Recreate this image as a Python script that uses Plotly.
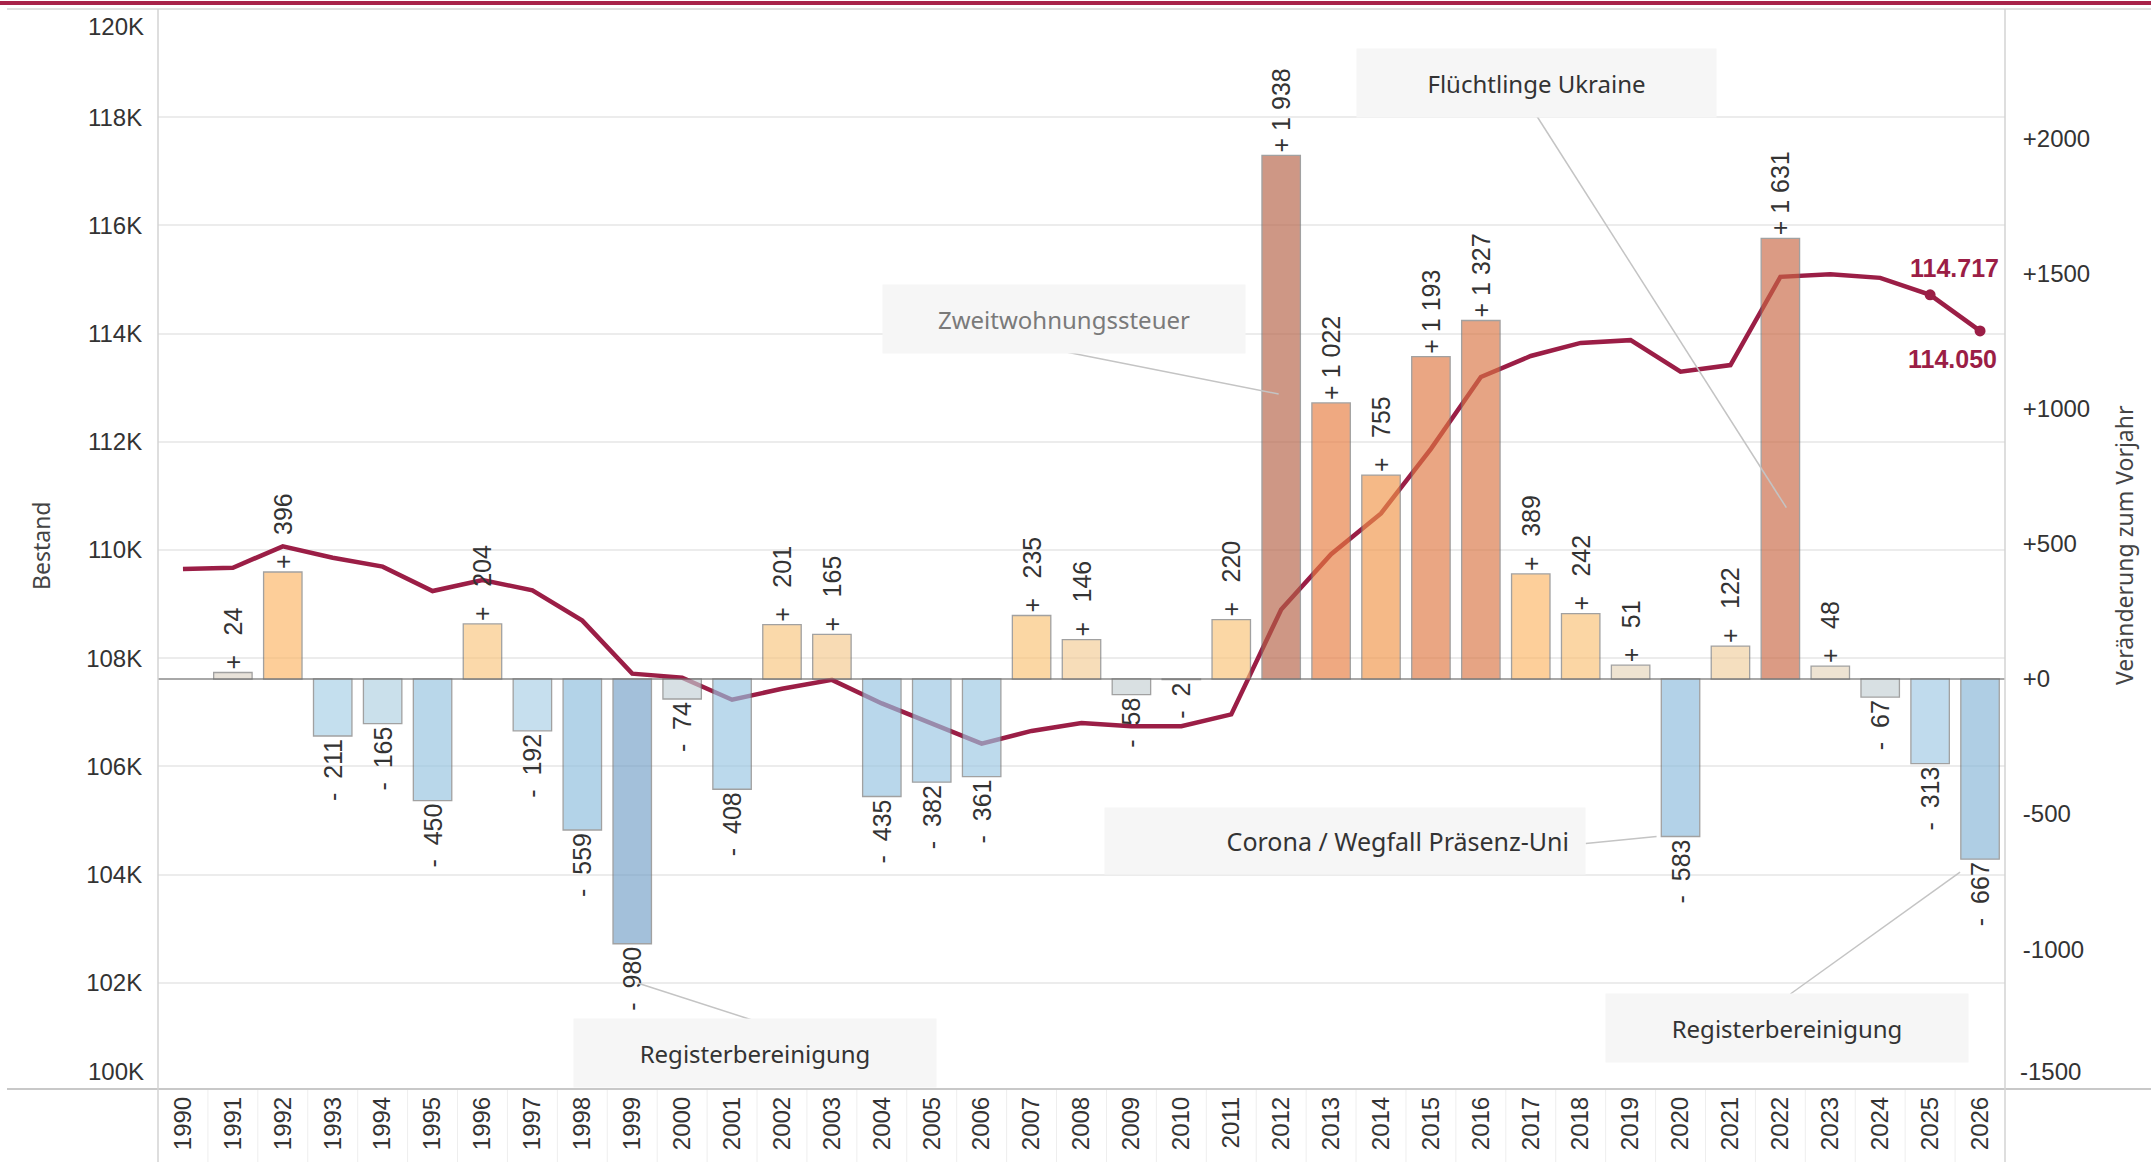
import plotly.graph_objects as go
from plotly.subplots import make_subplots

# ---------------- data ----------------
years = ["1990", "1991", "1992", "1993", "1994", "1995", "1996", "1997", "1998", "1999",
         "2000", "2001", "2002", "2003", "2004", "2005", "2006", "2007", "2008", "2009",
         "2010", "2011", "2012", "2013", "2014", "2015", "2016", "2017", "2018", "2019",
         "2020", "2021", "2022", "2023", "2024", "2025", "2026"]

# Veränderung zum Vorjahr (bars, right axis)
changes = [None, 24, 396, -211, -165, -450, 204, -192, -559, -980,
           -74, -408, 201, 165, -435, -382, -361, 235, 146, -58,
           -2, 220, 1938, 1022, 755, 1193, 1327, 389, 242, 51,
           -583, 122, 1631, 48, -67, -313, -667]

# Bestand (line, left axis)
bestand = [109648, 109672, 110068, 109857, 109692, 109242, 109446, 109254, 108695, 107715,
           107641, 107233, 107434, 107599, 107164, 106782, 106421, 106656, 106802, 106744,
           106742, 106962, 108900, 109922, 110677, 111870, 113197, 113586, 113828, 113879,
           113296, 113418, 115049, 115097, 115030, 114717, 114050]

left_ticks = [102000, 104000, 106000, 108000, 110000, 112000, 114000, 116000, 118000]
left_ticktext = ["102K", "104K", "106K", "108K", "110K", "112K", "114K", "116K", "118K"]
right_ticks = [-1000, -500, 0, 500, 1000, 1500, 2000]
right_ticktext = ["-1000", "-500", "+0", "+500", "+1000", "+1500", "+2000"]

notes = ["Registerbereinigung", "Zweitwohnungssteuer", "Flüchtlinge Ukraine",
         "Corona / Wegfall Präsenz-Uni", "Registerbereinigung"]

# ---------------- styles ----------------
LINE = "#9B1E46"
TXT = "#333333"
BAR_ALPHA = 0.65

# colours as they appear on white; converted to pre-opacity colours below
seen_anchors = [
    (-1000, (163, 192, 218)),
    (-560, (180, 212, 233)),
    (-400, (188, 217, 236)),
    (-200, (198, 224, 239)),
    (-70, (216, 225, 228)),
    (0, (226, 226, 226)),
    (50, (239, 228, 210)),
    (150, (248, 221, 185)),
    (220, (252, 216, 166)),
    (400, (253, 207, 154)),
    (750, (246, 186, 136)),
    (1020, (240, 170, 130)),
    (1330, (230, 165, 133)),
    (1630, (220, 156, 133)),
    (1940, (207, 152, 134)),
]
CMIN, CMAX = -1000, 1940


def unblend(c):
    return tuple(max(0, min(255, round((v - (1 - BAR_ALPHA) * 255) / BAR_ALPHA))) for v in c)


colorscale = [[(v - CMIN) / (CMAX - CMIN), "rgb(%d,%d,%d)" % unblend(c)] for v, c in seen_anchors]


def fmt(v):
    if v is None:
        return ""
    s = f"{abs(v):,}".replace(",", " ")
    if v < 0:
        return "-\u00a0\u00a0" + s
    if v < 1000:
        return "+\u2002\u00a0" + s
    return "+\u00a0" + s


bar_text = [fmt(v) for v in changes]
bar_color = [v if v is not None else 0 for v in changes]

fig = make_subplots(specs=[[{"secondary_y": True}]])

fig.add_trace(go.Scatter(x=years, y=bestand, mode="lines",
                         line=dict(color=LINE, width=4.5), hoverinfo="skip"),
              secondary_y=False)
fig.add_trace(go.Scatter(x=years[-2:], y=bestand[-2:], mode="markers",
                         marker=dict(color=LINE, size=11), hoverinfo="skip"),
              secondary_y=False)

fig.add_trace(go.Bar(x=years, y=changes, text=bar_text, textposition="outside",
                     textangle=-90, constraintext="none", cliponaxis=False,
                     textfont=dict(family="Liberation Sans, Arial", size=25, color=TXT),
                     marker=dict(color=bar_color, colorscale=colorscale, cmin=CMIN, cmax=CMAX,
                                 opacity=BAR_ALPHA,
                                 line=dict(color="#707070", width=1.3)),
                     hoverinfo="skip"),
              secondary_y=True)

W, H = 2151, 1162
ML, MR, MT, MB = 158, 146, 9, 71
PW, PH = W - ML - MR, H - MT - MB

fig.update_layout(
    width=W, height=H,
    margin=dict(l=ML, r=MR, t=MT, b=MB, autoexpand=False),
    paper_bgcolor="white", plot_bgcolor="white",
    showlegend=False, bargap=0.23,
    font=dict(family="Liberation Sans, Arial", color=TXT),
)

fig.update_xaxes(type="category", tickangle=-90, showgrid=False, showline=False, domain=[0, 1],
                 zeroline=False, ticks="", range=[-0.5, 36.5], automargin=False,
                 tickfont=dict(family="Liberation Sans, Arial", size=24, color=TXT))
fig.update_yaxes(range=[100000, 120000], tickvals=left_ticks, ticktext=left_ticktext,
                 showgrid=True, gridcolor="#ECECEC", gridwidth=1.5, zeroline=False, showline=False,
                 ticks="outside", ticklen=10, tickcolor="rgba(0,0,0,0)", automargin=False,
                 tickfont=dict(family="Liberation Sans, Arial", size=24, color=TXT),
                 secondary_y=False)
fig.update_yaxes(range=[-1525, 2480], tickvals=right_ticks, ticktext=right_ticktext,
                 showgrid=False, zeroline=True, zerolinecolor="#A8A8A8", zerolinewidth=2,
                 showline=False, ticks="outside", ticklen=12, tickcolor="rgba(0,0,0,0)", automargin=False,
                 tickfont=dict(family="Liberation Sans, Arial", size=24, color=TXT),
                 secondary_y=True)

px = lambda x: (x - ML) / PW          # page x pixel -> paper
py = lambda y: (H - MB - y) / PH      # page y pixel -> paper

shapes = []
# top dark red stripe
shapes.append(dict(type="line", xref="paper", yref="paper", x0=px(0), x1=px(W), y0=py(3), y1=py(3),
                   line=dict(color="#A8234A", width=4)))
# top grey line
shapes.append(dict(type="line", xref="paper", yref="paper", x0=px(7), x1=px(W), y0=1, y1=1,
                   line=dict(color="#D6D6D6", width=1.5)))
# x-axis base line
shapes.append(dict(type="line", xref="paper", yref="paper", x0=px(7), x1=px(W), y0=py(1089), y1=py(1089),
                   line=dict(color="#C8C8C8", width=2)))
# vertical axis lines
for xp in (0, 1):
    shapes.append(dict(type="line", xref="paper", yref="paper", x0=xp, x1=xp, y0=py(H), y1=1,
                       line=dict(color="#D3D3D3", width=1.5)))
# dividers between year labels
for i in range(1, len(years)):
    shapes.append(dict(type="line", xref="x", yref="paper", x0=i - 0.5, x1=i - 0.5, y0=py(H), y1=py(1089),
                       line=dict(color="#EEEEEE", width=1), layer="below"))

# annotation boxes: (text, x idx, y2, width, height, pad, align, size, color, connector start, connector end)
boxes = [
    (notes[0], 11.46, -1384, 360, 66, 1, "center", 24, TXT, (11.40, -1262), (9.12, -1126)),
    (notes[1], 17.64, 1334, 360, 66, 1, "center", 24, "#7A7A7A", (17.64, 1212), (21.95, 1055)),
    (notes[2], 27.12, 2206, 357, 66, 1, "center", 24, TXT, (27.12, 2084), (32.12, 634)),
    (notes[3], 23.27, -598, 448, 34, 16, "right", 25, TXT, (28.10, -609), (29.52, -583)),
    (notes[4], 32.14, -1293, 360, 66, 1, "center", 24, TXT, (32.20, -1166), (35.60, -715)),
]
annotations = []
for text, bx, by, bw, bh, pad, al, fs, col, p0, p1 in boxes:
    shapes.append(dict(type="line", xref="x", yref="y2", x0=p0[0], y0=p0[1], x1=p1[0], y1=p1[1],
                       line=dict(color="#C4C4C4", width=1.5)))
    annotations.append(dict(text=text, xref="x", yref="y2", x=bx, y=by, showarrow=False,
                            width=bw, height=bh, borderpad=pad, bgcolor="#F6F6F6", align=al,
                            valign="middle",
                            font=dict(family="Noto Sans, Open Sans", size=fs, color=col)))

# line end labels
annotations.append(dict(text="<b>114.717</b>", xref="x", yref="y", x=35.49, y=115216, showarrow=False,
                        font=dict(family="Liberation Sans, Arial", size=25, color=LINE)))
annotations.append(dict(text="<b>114.050</b>", xref="x", yref="y", x=35.44, y=113537, showarrow=False,
                        font=dict(family="Liberation Sans, Arial", size=25, color=LINE)))

# edge tick labels (shifted inward like the original)
tick_font = dict(family="Liberation Sans, Arial", size=24, color=TXT)
annotations.append(dict(text="120K", xref="paper", yref="paper", x=px(146), y=py(27), xanchor="right",
                        yanchor="middle", showarrow=False, font=tick_font))
annotations.append(dict(text="100K", xref="paper", yref="paper", x=px(146), y=py(1071), xanchor="right",
                        yanchor="middle", showarrow=False, font=tick_font))
annotations.append(dict(text="-1500", xref="paper", yref="paper", x=px(2018), y=py(1071), xanchor="left",
                        yanchor="middle", showarrow=False, font=tick_font))

# axis titles
title_font = dict(family="Noto Sans, Open Sans", size=23, color="#444444")
annotations.append(dict(text="Bestand", xref="paper", yref="paper", x=px(41), y=py(545), textangle=-90,
                        xanchor="center", yanchor="middle", showarrow=False, font=title_font))
annotations.append(dict(text="Veränderung zum Vorjahr", xref="paper", yref="paper", x=px(2124), y=py(545),
                        textangle=-90, xanchor="center", yanchor="middle", showarrow=False, font=title_font))

fig.update_layout(shapes=shapes, annotations=annotations)

fig.write_html("out.html", config={"displayModeBar": False},
               post_script="document.body.style.margin='0';")
